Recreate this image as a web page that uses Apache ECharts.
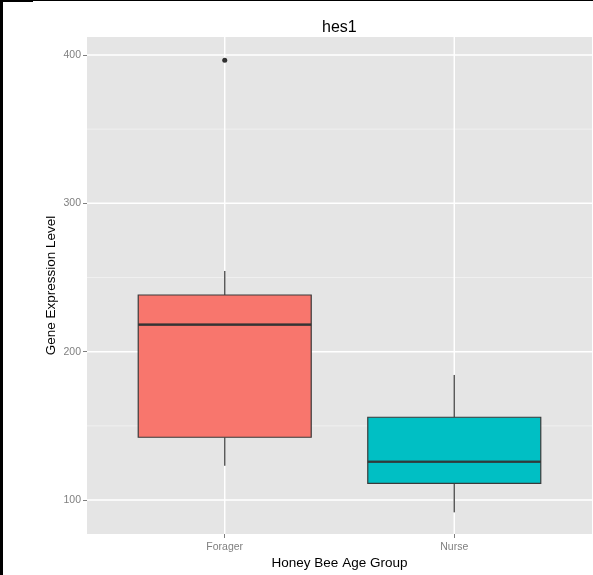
<!DOCTYPE html>
<html><head><meta charset="utf-8">
<script src="https://cdn.jsdelivr.net/npm/echarts@6/dist/echarts.min.js"></script>
<style>html,body{margin:0;padding:0;background:#fff}#c{width:593px;height:575px}</style>
</head><body><div id="c"></div>
<script>
const groups = ['Forager', 'Nurse'];
const groupPos = [1, 2];
// [min, Q1, median, Q3, max]
const boxStats = [
  [123.1, 142.3, 218.2, 238.2, 254.4],
  [91.7, 111.2, 125.8, 155.8, 184.3]
];
const outliers = [[1, 396.5]];
const fills = ['#F8766D', '#00BFC4'];
const yTicks = [100, 200, 300, 400];
const yMinor = [150, 250, 350];

const font = '"Liberation Sans", Arial, sans-serif';
const chart = echarts.init(document.getElementById('c'), null, {renderer: 'canvas'});

// Boxes only (whiskers drawn separately, without end caps)
const boxData = boxStats.map((s, i) => ({
  value: [groupPos[i], s[1], s[1], s[2], s[3], s[3]],
  itemStyle: {color: fills[i]}
}));
const medData = boxStats.map((s, i) => [groupPos[i], s[2]]);
const whiskerData = [];
boxStats.forEach((s, i) => {
  whiskerData.push([groupPos[i], s[0], s[1]]);
  whiskerData.push([groupPos[i], s[3], s[4]]);
});
const gridData = yTicks.map(v => ['y', v, 1]).concat(yMinor.map(v => ['y', v, 0])).concat(groupPos.map(v => ['x', v, 1]));

chart.setOption({
  animation: false,
  backgroundColor: '#fff',
  title: {
    text: 'hes1', left: 317, top: 15,
    textStyle: {fontFamily: font, fontSize: 16, fontWeight: 'normal', color: '#000'}
  },
  grid: {left: 87, top: 37, right: 1, bottom: 41, show: true, backgroundColor: '#E5E5E5', borderWidth: 0},
  xAxis: {
    type: 'value', min: 0.4, max: 2.6,
    name: 'Honey Bee Age Group', nameLocation: 'middle', nameGap: 22,
    nameMoveOverlap: false,
    nameTextStyle: {fontFamily: font, fontSize: 13.5, color: '#000'},
    axisLine: {show: false},
    axisTick: {show: true, length: 4, customValues: groupPos, lineStyle: {color: '#7f7f7f', width: 1}},
    axisLabel: {customValues: groupPos, formatter: v => groups[groupPos.indexOf(v)] || '',
      fontFamily: font, fontSize: 10.5, color: '#7f7f7f', margin: 8},
    splitLine: {show: false}
  },
  yAxis: {
    type: 'value', min: 77.1, max: 412.1,
    name: 'Gene Expression Level', nameLocation: 'middle', nameGap: 29, nameRotate: 90,
    nameMoveOverlap: false,
    nameTextStyle: {fontFamily: font, fontSize: 13.5, color: '#000'},
    axisLine: {show: false},
    axisTick: {show: true, length: 4, customValues: yTicks, lineStyle: {color: '#7f7f7f', width: 1}},
    axisLabel: {customValues: yTicks, fontFamily: font, fontSize: 10.5, color: '#7f7f7f', margin: 6},
    splitLine: {show: false}
  },
  graphic: [
    {type: 'rect', shape: {x: 0, y: 0, width: 3, height: 575}, style: {fill: '#000'}, z: 100},
    {type: 'rect', shape: {x: 0, y: 0, width: 593, height: 1}, style: {fill: '#000'}, z: 100},
    {type: 'rect', shape: {x: 0, y: 0, width: 33, height: 2}, style: {fill: '#000'}, z: 100}
  ],
  series: [
    {
      type: 'custom', z: 1, silent: true, data: gridData,
      encode: {x: -1, y: -1},
      renderItem: function (params, api) {
        const cs = params.coordSys;
        const dir = api.value(0), v = api.value(1), major = api.value(2);
        const style = {stroke: major ? '#fff' : '#F2F2F2', lineWidth: major ? 1.5 : 0.8};
        if (dir === 'y') {
          const y = api.coord([1, v])[1];
          return {type: 'line', shape: {x1: cs.x, y1: y, x2: cs.x + cs.width, y2: y}, style: style};
        }
        const x = api.coord([v, 200])[0];
        return {type: 'line', shape: {x1: x, y1: cs.y, x2: x, y2: cs.y + cs.height}, style: style};
      },
      dimensions: [{name: 'dir', type: 'ordinal'}, 'v', 'major']
    },
    {
      type: 'custom', z: 2, silent: true, data: whiskerData,
      encode: {x: 0, y: [1, 2]},
      renderItem: function (params, api) {
        const p1 = api.coord([api.value(0), api.value(1)]);
        const p2 = api.coord([api.value(0), api.value(2)]);
        return {type: 'line', shape: {x1: p1[0], y1: p1[1], x2: p2[0], y2: p2[1]},
          style: {stroke: '#5a5a5a', lineWidth: 1.5}};
      }
    },
    {
      type: 'boxplot', z: 3, boxWidth: [173, 173],
      itemStyle: {borderColor: '#3a3a3a', borderWidth: 1.2},
      data: boxData
    },
    {
      type: 'scatter', z: 4, symbol: 'rect', symbolSize: [173, 2.6], silent: true,
      itemStyle: {color: '#333'},
      data: medData
    },
    {
      type: 'scatter', z: 5, symbol: 'circle', symbolSize: 5,
      itemStyle: {color: '#000'},
      data: outliers
    }
  ]
});
</script></body></html>
